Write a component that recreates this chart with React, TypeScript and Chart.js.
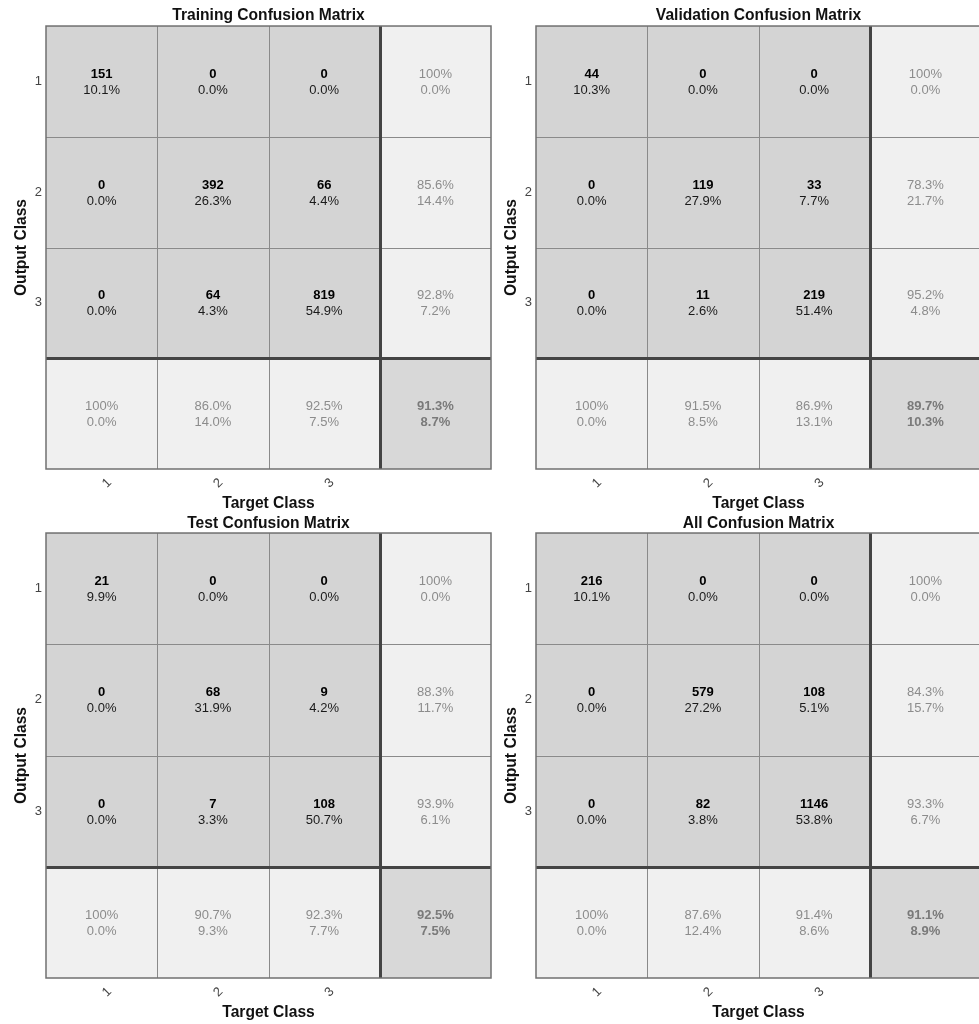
import React, { useEffect, useRef } from 'react';
import { Chart, registerables } from 'chart.js';

Chart.register(...registerables);

// ---------- data ----------
const classLabels = ['1', '2', '3'];
const xCategories = ['1', '2', '3', ''];

const trainingTitle = 'Training Confusion Matrix';
const trainingCounts = [[151, 0, 0], [0, 392, 66], [0, 64, 819]];
const trainingPercents = [['10.1%', '0.0%', '0.0%'], ['0.0%', '26.3%', '4.4%'], ['0.0%', '4.3%', '54.9%']];
const trainingRowSummary = [['100%', '0.0%'], ['85.6%', '14.4%'], ['92.8%', '7.2%']];
const trainingColSummary = [['100%', '0.0%'], ['86.0%', '14.0%'], ['92.5%', '7.5%']];
const trainingOverall = ['91.3%', '8.7%'];

const validationTitle = 'Validation Confusion Matrix';
const validationCounts = [[44, 0, 0], [0, 119, 33], [0, 11, 219]];
const validationPercents = [['10.3%', '0.0%', '0.0%'], ['0.0%', '27.9%', '7.7%'], ['0.0%', '2.6%', '51.4%']];
const validationRowSummary = [['100%', '0.0%'], ['78.3%', '21.7%'], ['95.2%', '4.8%']];
const validationColSummary = [['100%', '0.0%'], ['91.5%', '8.5%'], ['86.9%', '13.1%']];
const validationOverall = ['89.7%', '10.3%'];

const testTitle = 'Test Confusion Matrix';
const testCounts = [[21, 0, 0], [0, 68, 9], [0, 7, 108]];
const testPercents = [['9.9%', '0.0%', '0.0%'], ['0.0%', '31.9%', '4.2%'], ['0.0%', '3.3%', '50.7%']];
const testRowSummary = [['100%', '0.0%'], ['88.3%', '11.7%'], ['93.9%', '6.1%']];
const testColSummary = [['100%', '0.0%'], ['90.7%', '9.3%'], ['92.3%', '7.7%']];
const testOverall = ['92.5%', '7.5%'];

const allTitle = 'All Confusion Matrix';
const allCounts = [[216, 0, 0], [0, 579, 108], [0, 82, 1146]];
const allPercents = [['10.1%', '0.0%', '0.0%'], ['0.0%', '27.2%', '5.1%'], ['0.0%', '3.8%', '53.8%']];
const allRowSummary = [['100%', '0.0%'], ['84.3%', '15.7%'], ['93.3%', '6.7%']];
const allColSummary = [['100%', '0.0%'], ['87.6%', '12.4%'], ['91.4%', '8.6%']];
const allOverall = ['91.1%', '8.9%'];

// ---------- styles ----------
const FONT = "'Liberation Sans', Arial, Helvetica, sans-serif";
const CELL_COLOR = '#d4d4d4';
const SUMMARY_COLOR = '#f0f0f0';
const CORNER_COLOR = '#d8d8d8';
const TITLE_SIZE = 15.6;

type PanelProps = {
  title: string;
  counts: number[][];
  percents: string[][];
  rowSummary: string[][];
  colSummary: string[][];
  overall: string[];
  left: number;
  top: number;
  width: number;
  height: number;
  padRight: number;
  titlePadTop: number;
  titlePadBottom: number;
  xAxisHeight: number;
  xTitlePadBottom: number;
};

function Panel(p: PanelProps) {
  const ref = useRef<HTMLCanvasElement | null>(null);

  useEffect(() => {
    if (!ref.current) return;

    const datasets = [0, 1, 2, 3].map((r) => ({
      label: 'row ' + r,
      data: xCategories.map(() => [r, r + 1] as [number, number]),
      backgroundColor: xCategories.map((_, c) =>
        r === 3 && c === 3 ? CORNER_COLOR : r === 3 || c === 3 ? SUMMARY_COLOR : CELL_COLOR
      ),
      borderWidth: 0,
      grouped: false,
      barPercentage: 1,
      categoryPercentage: 1,
    }));

    const cmPlugin = {
      id: 'cmOverlay',
      afterDatasetsDraw(chart: any) {
        const { ctx } = chart;
        const xs = chart.scales.x;
        const ys = chart.scales.y;
        const px = (v: number) => xs.getPixelForValue(v);
        const py = (v: number) => ys.getPixelForValue(v);
        const x0 = px(-0.5), x1 = px(3.5), y0 = py(0), y1 = py(4);
        ctx.save();
        // inner grid lines
        ctx.strokeStyle = '#8a8a8a';
        ctx.lineWidth = 1;
        [0.5, 1.5].forEach((v) => {
          const X = Math.round(px(v)) + 0.5;
          ctx.beginPath(); ctx.moveTo(X, y0); ctx.lineTo(X, y1); ctx.stroke();
        });
        [1, 2].forEach((v) => {
          const Y = Math.round(py(v)) + 0.5;
          ctx.beginPath(); ctx.moveTo(x0, Y); ctx.lineTo(x1, Y); ctx.stroke();
        });
        // summary column/row separators
        ctx.strokeStyle = '#444444';
        ctx.lineWidth = 3;
        const TX = Math.round(px(2.5)) + 0.5;
        ctx.beginPath(); ctx.moveTo(TX, y0); ctx.lineTo(TX, y1); ctx.stroke();
        const TY = Math.round(py(3)) + 0.5;
        ctx.beginPath(); ctx.moveTo(x0, TY); ctx.lineTo(x1, TY); ctx.stroke();
        // outer frame
        ctx.strokeStyle = '#707070';
        ctx.lineWidth = 1.5;
        ctx.strokeRect(x0, y0, x1 - x0, y1 - y0);

        ctx.textAlign = 'center';
        ctx.textBaseline = 'middle';
        const drawPair = (c: number, r: number, a: string, b: string, colA: string, colB: string, boldA: boolean, boldB: boolean) => {
          const cx = px(c);
          const cy = py(r + 0.5);
          ctx.fillStyle = colA;
          ctx.font = (boldA ? 'bold ' : '') + '13px ' + FONT;
          ctx.fillText(a, cx, cy - 7);
          ctx.fillStyle = colB;
          ctx.font = (boldB ? 'bold ' : '') + '13px ' + FONT;
          ctx.fillText(b, cx, cy + 9);
        };
        for (let r = 0; r < 3; r++) {
          for (let c = 0; c < 3; c++) {
            drawPair(c, r, String(p.counts[r][c]), p.percents[r][c], '#000000', '#1a1a1a', true, false);
          }
          drawPair(3, r, p.rowSummary[r][0], p.rowSummary[r][1], '#8c8c8c', '#8c8c8c', false, false);
        }
        for (let c = 0; c < 3; c++) {
          drawPair(c, 3, p.colSummary[c][0], p.colSummary[c][1], '#8c8c8c', '#8c8c8c', false, false);
        }
        drawPair(3, 3, p.overall[0], p.overall[1], '#7a7a7a', '#7a7a7a', true, true);
        ctx.restore();
      },
    };

    const chart = new Chart(ref.current, {
      type: 'bar',
      data: { labels: xCategories, datasets: datasets as any },
      options: {
        animation: false,
        responsive: false,
        events: [],
        layout: { padding: { top: 0, left: 0, right: p.padRight, bottom: 0 } },
        plugins: {
          legend: { display: false },
          tooltip: { enabled: false },
          title: {
            display: true,
            text: p.title,
            fullSize: false,
            color: '#111111',
            font: { family: FONT, size: TITLE_SIZE, weight: 'bold', lineHeight: 1.2 },
            padding: { top: p.titlePadTop, bottom: p.titlePadBottom },
          },
        },
        scales: {
          x: {
            type: 'category',
            offset: true,
            grid: { display: false, drawTicks: false },
            border: { display: false },
            ticks: {
              color: '#444444',
              font: { family: FONT, size: 13 },
              minRotation: 45,
              maxRotation: 45,
              padding: 6,
              labelOffset: 8,
            },
            title: {
              display: true,
              text: 'Target Class',
              color: '#111111',
              font: { family: FONT, size: TITLE_SIZE, weight: 'bold', lineHeight: 1.2 },
              padding: { top: 0, bottom: p.xTitlePadBottom },
            },
            afterFit: (scale: any) => { scale.height = p.xAxisHeight; },
          },
          y: {
            type: 'linear',
            min: 0,
            max: 4,
            reverse: true,
            grid: { display: false, drawTicks: false },
            border: { display: false },
            afterBuildTicks: (scale: any) => {
              scale.ticks = [0.5, 1.5, 2.5].map((v) => ({ value: v }));
            },
            ticks: {
              color: '#444444',
              font: { family: FONT, size: 13 },
              padding: 4,
              callback: (v: any) => classLabels[Math.floor(Number(v))] ?? '',
            },
            title: {
              display: true,
              text: 'Output Class',
              color: '#111111',
              font: { family: FONT, size: TITLE_SIZE, weight: 'bold', lineHeight: 1.2 },
              padding: { top: 12, bottom: 0 },
            },
            afterFit: (scale: any) => { scale.width = 46; },
          },
        },
      } as any,
      plugins: [cmPlugin],
    });
    return () => chart.destroy();
  }, []);

  return (
    <canvas
      ref={ref}
      width={p.width}
      height={p.height}
      style={{ position: 'absolute', left: p.left, top: p.top, width: p.width, height: p.height, display: 'block' }}
    />
  );
}

export default function App() {
  return (
    <div
      style={{
        position: 'absolute',
        left: 0,
        top: 0,
        width: 979,
        height: 1024,
        overflow: 'hidden',
        background: '#ffffff',
      }}
    >
      <Panel title={trainingTitle} counts={trainingCounts} percents={trainingPercents}
        rowSummary={trainingRowSummary} colSummary={trainingColSummary} overall={trainingOverall}
        left={0} top={0} width={495} height={514} padRight={4}
        titlePadTop={6.6} titlePadBottom={0.7} xAxisHeight={45} xTitlePadBottom={0.6} />
      <Panel title={validationTitle} counts={validationCounts} percents={validationPercents}
        rowSummary={validationRowSummary} colSummary={validationColSummary} overall={validationOverall}
        left={490} top={0} width={491} height={514} padRight={0}
        titlePadTop={6.6} titlePadBottom={0.7} xAxisHeight={45} xTitlePadBottom={0.6} />
      <Panel title={testTitle} counts={testCounts} percents={testPercents}
        rowSummary={testRowSummary} colSummary={testColSummary} overall={testOverall}
        left={0} top={512} width={495} height={512} padRight={4}
        titlePadTop={2.1} titlePadBottom={0.2} xAxisHeight={46} xTitlePadBottom={1.6} />
      <Panel title={allTitle} counts={allCounts} percents={allPercents}
        rowSummary={allRowSummary} colSummary={allColSummary} overall={allOverall}
        left={490} top={512} width={491} height={512} padRight={0}
        titlePadTop={2.1} titlePadBottom={0.2} xAxisHeight={46} xTitlePadBottom={1.6} />
    </div>
  );
}
